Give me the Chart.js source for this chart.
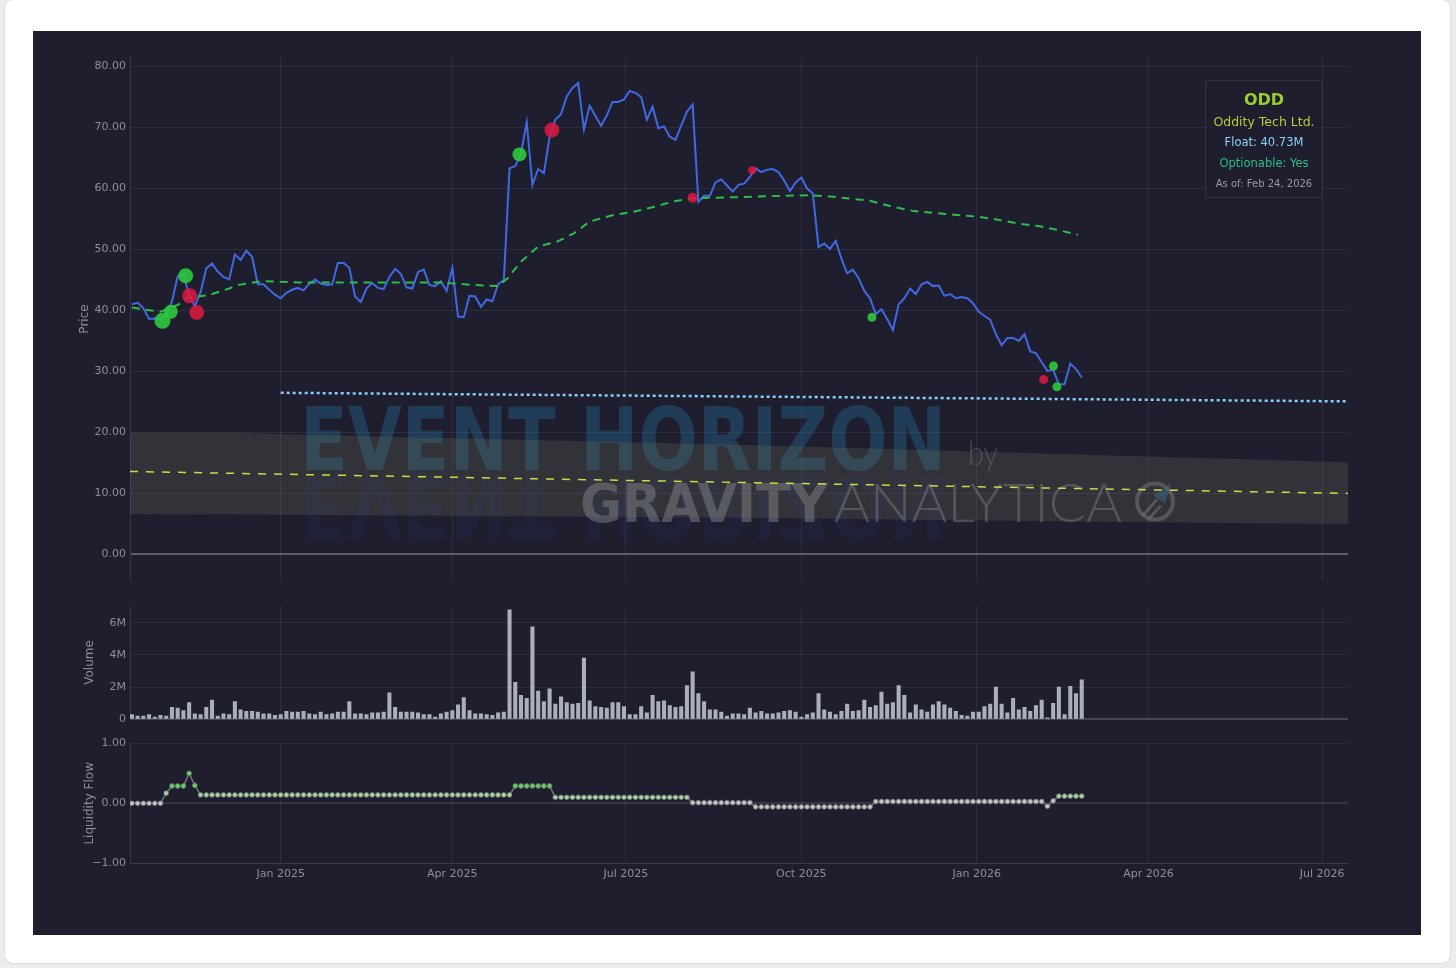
<!DOCTYPE html>
<html>
<head>
<meta charset="utf-8">
<title>ODD - Event Horizon</title>
<script src="https://cdn.jsdelivr.net/npm/chart.js@4.4.1/dist/chart.umd.min.js"></script>
<style>
  html, body { margin: 0; padding: 0; }
  body {
    width: 1456px; height: 968px; position: relative; overflow: hidden;
    background: #ececee; font-family: "DejaVu Sans", Verdana, sans-serif;
  }
  .card {
    position: absolute; left: 5px; top: 0; width: 1445px; height: 963px;
    background: #fff; border-radius: 8px; box-shadow: 0 0 2px rgba(0,0,0,0.18);
  }
  .dark { position: absolute; left: 33px; top: 31px; width: 1388px; height: 904px; background: #1e1e2f; }
  canvas { position: absolute; left: 33px; }
  #priceChart { top: 46px; }
  #volChart { top: 595px; }
  #liqChart { top: 733px; }
  .info {
    position: absolute; left: 1205px; top: 80px; width: 118px; height: 118px;
    box-sizing: border-box; border: 1px solid rgba(255,255,255,0.09);
    background: rgba(30,30,47,0.85);
  }
  .info div { position: absolute; left: 0; width: 100%; text-align: center; white-space: nowrap; }
  .sym { top: 9px; font-size: 16px; font-weight: bold; color: #9acd32; }
  .name { top: 33px; font-size: 12.5px; color: #b0cf38; }
  .float { top: 54px; font-size: 11.5px; color: #8fd0f8; }
  .opt { top: 75px; font-size: 11.5px; color: #2bbf86; }
  .asof { top: 97px; font-size: 10px; color: #9a9a9a; }
</style>
</head>
<body>
<div class="card"></div>
<div class="dark"></div>
<canvas id="priceChart" width="1388" height="546"></canvas>
<canvas id="volChart" width="1388" height="135"></canvas>
<canvas id="liqChart" width="1388" height="155"></canvas>
<div class="info">
  <div class="sym">ODD</div>
  <div class="name">Oddity Tech Ltd.</div>
  <div class="float">Float: 40.73M</div>
  <div class="opt">Optionable: Yes</div>
  <div class="asof">As of: Feb 24, 2026</div>
</div>
<script>
// x values are days counted from Jan 1, 2025
const monthDays = [0, 90, 181, 273, 365, 455, 546];
const monthLabels = ["Jan 2025", "Apr 2025", "Jul 2025", "Oct 2025", "Jan 2026", "Apr 2026", "Jul 2026"];

// daily series sampled every 3 days starting Oct 15, 2024
const seriesStart = -78;
const seriesStep = 3;

const priceVals = [
  41.0, 41.3, 40.4, 38.6, 38.7, 38.5, 39.2, 41.5, 45.6, 45.9,
  42.5, 40.7, 43.0, 46.9, 47.7, 46.4, 45.5, 45.1, 49.2, 48.3,
  49.8, 48.8, 44.3, 44.3, 43.4, 42.6, 42.0, 42.9, 43.4, 43.7,
  43.3, 44.4, 45.1, 44.4, 44.2, 44.3, 47.8, 47.8, 47.0, 42.3,
  41.4, 43.6, 44.5, 43.7, 43.5, 45.5, 46.8, 46.0, 43.8, 43.6,
  46.3, 46.7, 44.2, 44.0, 44.8, 43.2, 47.0, 39.0, 38.9, 42.4,
  42.3, 40.6, 41.8, 41.5, 44.3, 45.0, 63.3, 63.7, 65.8, 70.9,
  60.6, 63.2, 62.5, 68.5, 71.3, 72.2, 75.1, 76.5, 77.3, 69.7,
  73.6, 71.9, 70.3, 72.0, 74.2, 74.2, 74.6, 76.0, 75.7, 75.0,
  71.3, 73.4, 69.9, 70.2, 68.5, 68.0, 70.3, 72.6, 73.8, 57.8,
  58.8, 58.8, 61.0, 61.5, 60.5, 59.5, 60.6, 60.8, 61.9, 63.3,
  62.7, 63.1, 63.2, 62.7, 61.3, 59.6, 61.0, 61.8, 60.0, 59.2,
  50.4, 51.0, 50.1, 51.4, 48.5, 46.1, 46.7, 45.3, 43.2, 42.0,
  39.4, 40.2, 38.6, 36.8, 41.0, 42.0, 43.6, 42.7, 44.3, 44.7,
  44.0, 44.1, 42.4, 42.7, 42.0, 42.2, 42.0, 41.2, 39.8, 39.1,
  38.5, 36.1, 34.3, 35.5, 35.5, 35.0, 36.1, 33.3, 33.0, 31.5,
  30.1, 30.3, 27.9, 27.9, 31.3, 30.4, 29.0
];

// volume in millions of shares
const volumeVals = [
  0.3, 0.2, 0.2, 0.3, 0.15, 0.25, 0.2, 0.75, 0.7, 0.55,
  1.05, 0.35, 0.3, 0.75, 1.2, 0.2, 0.35, 0.3, 1.1, 0.6,
  0.5, 0.5, 0.45, 0.35, 0.35, 0.25, 0.3, 0.5, 0.45, 0.45,
  0.5, 0.35, 0.3, 0.45, 0.3, 0.35, 0.45, 0.45, 1.1, 0.35,
  0.35, 0.3, 0.4, 0.4, 0.45, 1.65, 0.75, 0.45, 0.45, 0.45,
  0.4, 0.3, 0.3, 0.15, 0.35, 0.45, 0.55, 0.9, 1.35, 0.55,
  0.35, 0.35, 0.3, 0.25, 0.4, 0.45, 6.8, 2.3, 1.5, 1.3,
  5.75, 1.75, 1.1, 1.9, 0.95, 1.4, 1.05, 0.95, 1.0, 3.8,
  1.15, 0.8, 0.75, 0.7, 1.05, 1.05, 0.8, 0.3, 0.3, 0.8,
  0.4, 1.5, 1.1, 1.15, 0.85, 0.75, 0.8, 2.1, 2.95, 1.6,
  1.1, 0.6, 0.6, 0.45, 0.2, 0.35, 0.35, 0.3, 0.7, 0.4,
  0.5, 0.35, 0.35, 0.4, 0.5, 0.55, 0.45, 0.15, 0.3, 0.4,
  1.6, 0.6, 0.45, 0.3, 0.5, 0.95, 0.5, 0.55, 1.2, 0.75,
  0.85, 1.7, 0.95, 1.05, 2.1, 1.5, 0.4, 0.9, 0.6, 0.45,
  0.9, 1.1, 0.9, 0.7, 0.5, 0.25, 0.2, 0.45, 0.45, 0.8,
  0.95, 2.0, 0.95, 0.4, 1.3, 0.6, 0.75, 0.5, 0.85, 1.2,
  0.1, 1.0, 2.0, 0.3, 2.05, 1.6, 2.45
];

const liquidityVals = [
  0, 0, 0, 0, 0, 0, 0.17, 0.29, 0.29, 0.29,
  0.5, 0.3, 0.14, 0.14, 0.14, 0.14, 0.14, 0.14, 0.14, 0.14,
  0.14, 0.14, 0.14, 0.14, 0.14, 0.14, 0.14, 0.14, 0.14, 0.14,
  0.14, 0.14, 0.14, 0.14, 0.14, 0.14, 0.14, 0.14, 0.14, 0.14,
  0.14, 0.14, 0.14, 0.14, 0.14, 0.14, 0.14, 0.14, 0.14, 0.14,
  0.14, 0.14, 0.14, 0.14, 0.14, 0.14, 0.14, 0.14, 0.14, 0.14,
  0.14, 0.14, 0.14, 0.14, 0.14, 0.14, 0.14, 0.29, 0.29, 0.29,
  0.29, 0.29, 0.29, 0.29, 0.1, 0.1, 0.1, 0.1, 0.1, 0.1,
  0.1, 0.1, 0.1, 0.1, 0.1, 0.1, 0.1, 0.1, 0.1, 0.1,
  0.1, 0.1, 0.1, 0.1, 0.1, 0.1, 0.1, 0.1, 0.01, 0.01,
  0.01, 0.01, 0.01, 0.01, 0.01, 0.01, 0.01, 0.01, 0.01, -0.06,
  -0.06, -0.06, -0.06, -0.06, -0.06, -0.06, -0.06, -0.06, -0.06, -0.06,
  -0.06, -0.06, -0.06, -0.06, -0.06, -0.06, -0.06, -0.06, -0.06, -0.06,
  0.03, 0.03, 0.03, 0.03, 0.03, 0.03, 0.03, 0.03, 0.03, 0.03,
  0.03, 0.03, 0.03, 0.03, 0.03, 0.03, 0.03, 0.03, 0.03, 0.03,
  0.03, 0.03, 0.03, 0.03, 0.03, 0.03, 0.03, 0.03, 0.03, 0.03,
  -0.05, 0.04, 0.12, 0.12, 0.12, 0.12, 0.12
];

// moving average
const smaDays = [-78, -68, -63, -54, -49, -38, -34, -27, -22, -12, -8, 10, 37, 63, 84, 100, 114, 119, 126, 135, 145, 154, 162, 175, 185, 196, 206, 216, 241, 262, 276, 288, 309, 321, 332, 353, 365, 376, 388, 398, 409, 418];
const smaVals = [40.5, 40.0, 39.8, 40.9, 42.1, 42.5, 42.9, 43.6, 44.2, 44.7, 44.8, 44.6, 44.6, 44.6, 44.6, 44.2, 44.0, 45.3, 48.0, 50.5, 51.3, 52.7, 54.6, 55.7, 56.2, 57.0, 57.9, 58.4, 58.6, 58.8, 58.9, 58.7, 58.0, 57.0, 56.3, 55.7, 55.4, 54.9, 54.2, 53.8, 53.1, 52.4];

// horizon level (dotted) and channel
const levelDays = [0, 560];
const levelVals = [26.5, 25.1];
const trendDays = [-79, 560];
const trendVals = [13.6, 10.0];
const bandDays = [-79, -26, 0, 240, 359, 482, 560];
const bandUpper = [20.0, 20.0, 19.7, 18.0, 16.9, 15.8, 15.1];
const bandLower = [6.6, 6.55, 6.5, 6.0, 5.6, 5.2, 5.0];

// signals
const buyDays = [-62, -57.6, -49.8, 125.2, 310, 405.2, 407];
const buyVals = [38.3, 39.8, 45.7, 65.6, 38.9, 30.9, 27.5];
const buySize = [8, 7, 7.5, 7, 4.5, 4.5, 4.5];
const sellDays = [-47.7, -44, 142.2, 216, 247.2, 400];
const sellVals = [42.4, 39.7, 69.6, 58.5, 63.0, 28.7];
const sellSize = [7.5, 7.5, 7.5, 5, 4, 4.5];

const priceTicks = [0, 10, 20, 30, 40, 50, 60, 70, 80];
const volumeTicks = [0, 2, 4, 6];
const liquidityTicks = [-1, 0, 1];

const gridColor = "rgba(255,255,255,0.07)";
const tickColor = "#8e8e9a";
Chart.defaults.font.family = '"DejaVu Sans", Verdana, sans-serif';

const seriesX = i => seriesStart + i * seriesStep;
const toPoints = (xs, ys) => xs.map((x, i) => ({ x: x, y: ys[i] }));

function xAxis(showLabels) {
    return {
        type: "linear",
        min: -79,
        max: 559.6,
        offset: false,
        afterBuildTicks: s => { s.ticks = monthDays.map(v => ({ value: v })); },
        afterFit: s => { s.height = showLabels ? 20 : 0; },
        grid: { color: gridColor, drawTicks: false, offset: false },
        border: { display: showLabels, color: gridColor },
        ticks: {
            display: showLabels,
            padding: 5,
            color: tickColor,
            font: { size: 11 },
            maxRotation: 0,
            autoSkip: false,
            callback: v => monthLabels[monthDays.indexOf(v)]
        }
    };
}

function yAxis(min, max, ticks, width, title, fmt, zeroColor) {
    return {
        min: min,
        max: max,
        afterBuildTicks: s => { s.ticks = ticks.map(v => ({ value: v })); },
        afterFit: s => { s.width = width; },
        grid: {
            drawTicks: false,
            color: c => (c.tick && c.tick.value === 0 ? zeroColor : gridColor),
            lineWidth: c => (c.tick && c.tick.value === 0 ? 2 : 1)
        },
        border: { color: "rgba(255,255,255,0.1)" },
        ticks: { padding: 4, color: tickColor, font: { size: 11 }, callback: fmt },
        title: { display: true, text: title, color: tickColor, font: { size: 12 }, padding: { top: 4, bottom: 4 } }
    };
}

function fitText(ctx, text, font, x, y, width, flip, color) {
    ctx.font = font;
    const w = ctx.measureText(text).width;
    ctx.save();
    ctx.translate(x, y);
    ctx.scale(width / w, flip);
    ctx.fillStyle = color;
    ctx.fillText(text, 0, 0);
    ctx.restore();
}

// Event Horizon / Gravity Analytica watermark
const watermark = {
    id: "watermark",
    beforeDatasetsDraw(chart) {
        const ctx = chart.ctx;
        const a = chart.chartArea;
        const ox = a.left, oy = a.top;
        ctx.save();
        ctx.beginPath();
        ctx.rect(a.left, a.top, a.right - a.left, a.bottom - a.top);
        ctx.clip();
        ctx.textBaseline = "alphabetic";
        const big = 'bold 87px "DejaVu Sans Condensed", "Liberation Sans Narrow", "DejaVu Sans"';
        fitText(ctx, "EVENT HORIZON", big, ox + 170, oy + 413, 646, 1, "rgba(40,115,155,0.36)");
        fitText(ctx, "EVENT HORIZON", big, ox + 170, oy + 418, 646, -1, "rgba(45,60,150,0.11)");
        fitText(ctx, "by", '300 34px Lato, "Open Sans", sans-serif', ox + 838, oy + 408, 30, 1, "rgba(150,150,160,0.35)");
        fitText(ctx, "GRAVITY", 'bold 54px "DejaVu Sans", sans-serif', ox + 450, oy + 465, 248, 1, "rgba(150,150,160,0.42)");
        fitText(ctx, "ANALYTICA", '300 54px Lato, "Open Sans", sans-serif', ox + 704, oy + 465, 288, 1, "rgba(150,150,160,0.38)");
        // logo
        const cx = ox + 1025, cy = oy + 445;
        ctx.strokeStyle = "rgba(150,150,160,0.38)";
        ctx.lineWidth = 4;
        ctx.beginPath();
        ctx.arc(cx, cy, 18, 0, Math.PI * 2);
        ctx.stroke();
        ctx.lineWidth = 3;
        ctx.beginPath();
        ctx.moveTo(cx - 12, cy + 14); ctx.lineTo(cx + 2, cy - 2);
        ctx.moveTo(cx - 6, cy + 17); ctx.lineTo(cx + 6, cy + 4);
        ctx.stroke();
        ctx.fillStyle = "rgba(40,110,150,0.5)";
        ctx.beginPath();
        ctx.moveTo(cx + 16, cy - 18);
        ctx.lineTo(cx + 10, cy + 2);
        ctx.lineTo(cx - 2, cy - 6);
        ctx.closePath();
        ctx.fill();
        ctx.restore();
    }
};

// Price panel
new Chart(document.getElementById("priceChart"), {
    type: "line",
    data: {
        datasets: [
            {
                data: toPoints(buyDays, buyVals),
                showLine: false,
                pointRadius: buySize,
                pointHoverRadius: buySize,
                pointBackgroundColor: "rgba(45,205,60,0.88)",
                pointBorderWidth: 0
            },
            {
                data: toPoints(sellDays, sellVals),
                showLine: false,
                pointRadius: sellSize,
                pointHoverRadius: sellSize,
                pointBackgroundColor: "rgba(225,25,65,0.85)",
                pointBorderWidth: 0
            },
            {
                data: smaVals.map((v, i) => ({ x: smaDays[i], y: v })),
                borderColor: "#2dbe4a",
                borderWidth: 2,
                borderDash: [8, 6],
                pointRadius: 0
            },
            {
                data: priceVals.map((v, i) => ({ x: seriesX(i), y: v })),
                borderColor: "#4169e1",
                borderWidth: 2,
                pointRadius: 0
            },
            {
                data: toPoints(levelDays, levelVals),
                borderColor: "#87cefa",
                borderWidth: 2.5,
                borderDash: [3, 3],
                pointRadius: 0
            },
            {
                data: toPoints(trendDays, trendVals),
                borderColor: "#c6df45",
                borderWidth: 1.5,
                borderDash: [8, 8],
                pointRadius: 0
            },
            {
                data: toPoints(bandDays, bandUpper),
                borderWidth: 0,
                pointRadius: 0,
                fill: "+1",
                backgroundColor: "rgba(125,125,95,0.22)"
            },
            {
                data: toPoints(bandDays, bandLower),
                borderWidth: 0,
                pointRadius: 0
            }
        ]
    },
    options: {
        responsive: false,
        animation: false,
        devicePixelRatio: 1,
        layout: { padding: { left: 41, right: 73, top: 5, bottom: 5 } },
        plugins: { legend: { display: false }, tooltip: { enabled: false } },
        scales: {
            x: xAxis(false),
            y: yAxis(-4.43, 81.64, priceTicks, 56, "Price", v => v.toFixed(2), "rgba(170,170,170,0.45)")
        }
    },
    plugins: [watermark]
});

// Volume panel
new Chart(document.getElementById("volChart"), {
    type: "bar",
    data: {
        datasets: [{
            data: volumeVals.map((v, i) => ({ x: seriesX(i), y: v })),
            backgroundColor: "rgba(195,201,212,0.85)",
            barThickness: 3.4
        }]
    },
    options: {
        responsive: false,
        animation: false,
        devicePixelRatio: 1,
        layout: { padding: { left: 46, right: 73, top: 5, bottom: 5 } },
        plugins: { legend: { display: false }, tooltip: { enabled: false } },
        scales: {
            x: xAxis(false),
            y: yAxis(0, 7.06, volumeTicks, 51, "Volume", v => (v === 0 ? "0" : v + "M"), "rgba(150,150,150,0.35)")
        }
    }
});

// Liquidity flow panel
new Chart(document.getElementById("liqChart"), {
    type: "line",
    data: {
        datasets: [{
            data: liquidityVals.map((v, i) => ({ x: seriesX(i), y: v })),
            borderColor: "#767676",
            borderWidth: 1.5,
            pointRadius: 2.4,
            pointBorderWidth: 0.8,
            pointBorderColor: "#707070",
            pointBackgroundColor: c => {
                const v = c.raw ? c.raw.y : 0;
                if (v >= 0.25) return "#5fd35f";
                if (v > 0.05) return "#a3d6a0";
                return "#c4c4c4";
            }
        }]
    },
    options: {
        responsive: false,
        animation: false,
        devicePixelRatio: 1,
        layout: { padding: { left: 46, right: 73, top: 5, bottom: 5 } },
        plugins: { legend: { display: false }, tooltip: { enabled: false } },
        scales: {
            x: xAxis(true),
            y: yAxis(-1, 1, liquidityTicks, 51, "Liquidity Flow",
                v => (v < 0 ? "\u2212" + Math.abs(v).toFixed(2) : v.toFixed(2)), "rgba(255,255,255,0.1)")
        }
    }
});
</script>
</body>
</html>
